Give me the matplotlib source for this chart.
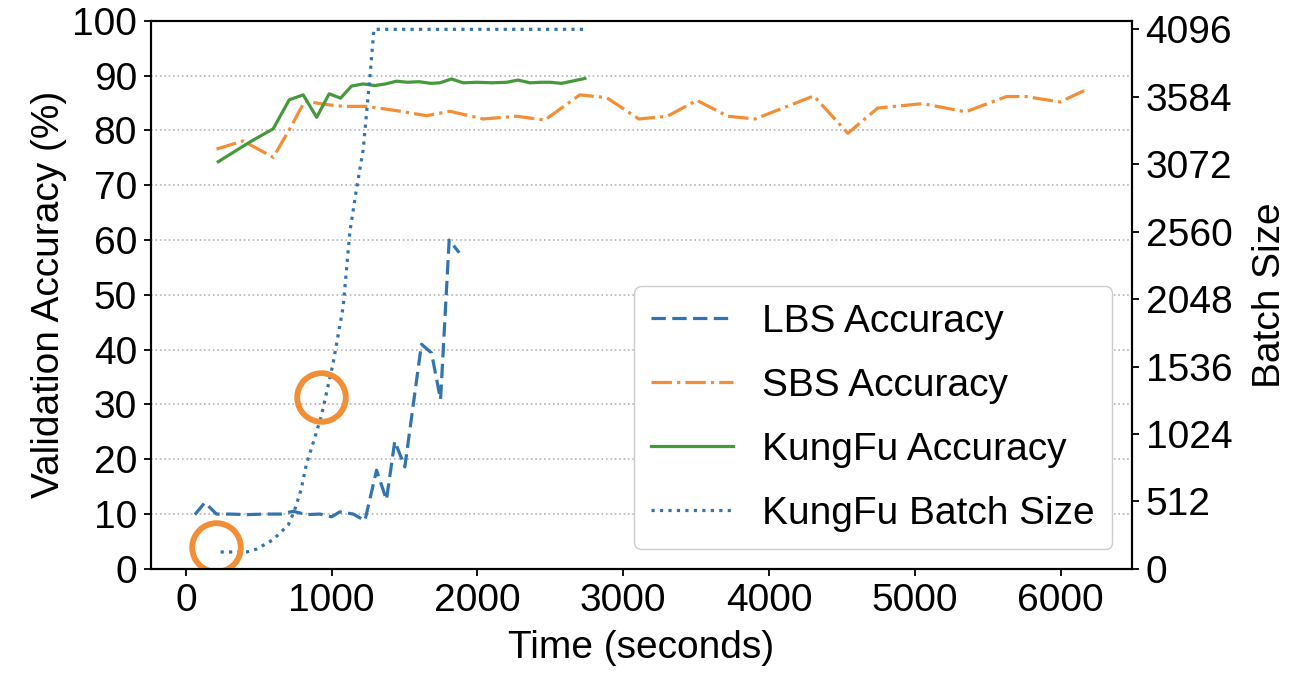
"""
Validation accuracy vs. time for LBS / SBS / KungFu, with KungFu batch size
on a second y axis.
"""

import matplotlib
matplotlib.use("Agg")
import matplotlib.pyplot as plt

plt.rcParams["font.family"] = ["Liberation Sans", "DejaVu Sans"]
plt.rcParams["font.size"] = 28

# --- data -------------------------------------------------------------------
lbs_t = [62, 130, 210, 300, 420, 540, 650, 736, 828, 920, 1000, 1056, 1148,
         1228, 1308, 1376, 1433, 1502, 1616, 1685, 1747, 1806, 1875]
lbs_acc = [9.9, 12.1, 10.0, 10.0, 9.9, 10.0, 10.0, 10.5, 9.9, 10.0, 9.5,
           10.4, 10.0, 8.8, 18.0, 12.6, 23.3, 18.6, 41.0, 39.4, 30.9, 60.0, 57.7]

sbs_t = [210, 393, 599, 713, 816, 942, 1079, 1239, 1450, 1651, 1811, 2039,
         2268, 2462, 2702, 2886, 3107, 3303, 3505, 3717, 3903, 4307, 4541,
         4746, 5055, 5348, 5630, 5761, 5995, 6180]
sbs_acc = [76.6, 78.1, 75.1, 80.3, 85.4, 84.8, 84.4, 84.4, 83.6, 82.7, 83.5,
           82.1, 82.6, 81.9, 86.5, 86.0, 82.1, 82.6, 85.5, 82.6, 82.1, 86.3,
           79.5, 84.1, 84.9, 83.4, 86.2, 86.2, 85.2, 87.5]

kf_t = [222, 439, 599, 709, 805, 897, 983, 1061, 1136, 1216, 1296, 1370,
        1445, 1520, 1600, 1680, 1742, 1822, 1902, 2000, 2100, 2200, 2279,
        2360, 2440, 2500, 2577, 2737]
kf_acc = [74.3, 77.9, 80.3, 85.6, 86.5, 82.4, 86.7, 85.9, 88.1, 88.5, 88.2,
          88.5, 89.0, 88.8, 88.9, 88.6, 88.7, 89.4, 88.7, 88.8, 88.7, 88.8,
          89.2, 88.7, 88.8, 88.8, 88.6, 89.5]

bs_t = [238, 330, 416, 485, 599, 702, 741, 790, 828, 880, 930, 1010, 1079,
        1125, 1170, 1216, 1262, 1290, 1400, 2000, 2730]
bs_val = [128, 128, 128, 150, 222, 333, 430, 600, 800, 980, 1164, 1562, 1990,
          2560, 2880, 3180, 3730, 4096, 4096, 4096, 4096]

# highlighted points (time, batch size)
mark_t = [206, 926]
mark_bs = [169, 1308]

BLUE = "#3274b0"
ORANGE = "#f28e35"
GREEN = "#47983c"

fig = plt.figure(figsize=(12.94, 6.74), dpi=100)
ax = fig.add_axes([0.1166, 0.156, 0.758, 0.813])
ax2 = ax.twinx()

l1, = ax.plot(lbs_t, lbs_acc, color=BLUE, lw=2.3, dashes=(4.5, 2),
              label="LBS Accuracy")
l2, = ax.plot(sbs_t, sbs_acc, "-.", color=ORANGE, lw=2.3, label="SBS Accuracy")
l3, = ax.plot(kf_t, kf_acc, "-", color=GREEN, lw=2.3, label="KungFu Accuracy")
l4, = ax2.plot(bs_t, bs_val, ":", color=BLUE, lw=2.3,
               label="KungFu Batch Size")
ax2.plot(mark_t, mark_bs, "o", ms=35, mfc="none", mec=ORANGE, mew=4.2,
         ls="none")

ax.set_xlim(-240, 6488)
ax.set_ylim(0, 100)
ax.set_yticks(range(0, 101, 10))
ax.set_xticks(range(0, 6001, 1000))
ax2.set_ylim(0, 4160)
ax2.set_yticks(range(0, 4097, 512))

ax.yaxis.grid(True, ls=":", color="#b5b5b5", lw=1.2)
ax.set_axisbelow(True)

ax.set_xlabel("Time (seconds)", labelpad=8)
ax.set_ylabel("Validation Accuracy (%)", labelpad=4)
ax2.set_ylabel("Batch Size", labelpad=14)

for a in (ax, ax2):
    for s in a.spines.values():
        s.set_linewidth(1.5)
    a.tick_params(length=5, width=1.3, pad=5)

leg = ax2.legend(handles=[l1, l2, l3, l4], loc="lower right",
                 fontsize=28, labelspacing=0.72, handlelength=2.1,
                 handletextpad=0.75, borderpad=0.45, fancybox=True,
                 framealpha=1, edgecolor="#cccccc")

fig.savefig("out.png", dpi=100)
